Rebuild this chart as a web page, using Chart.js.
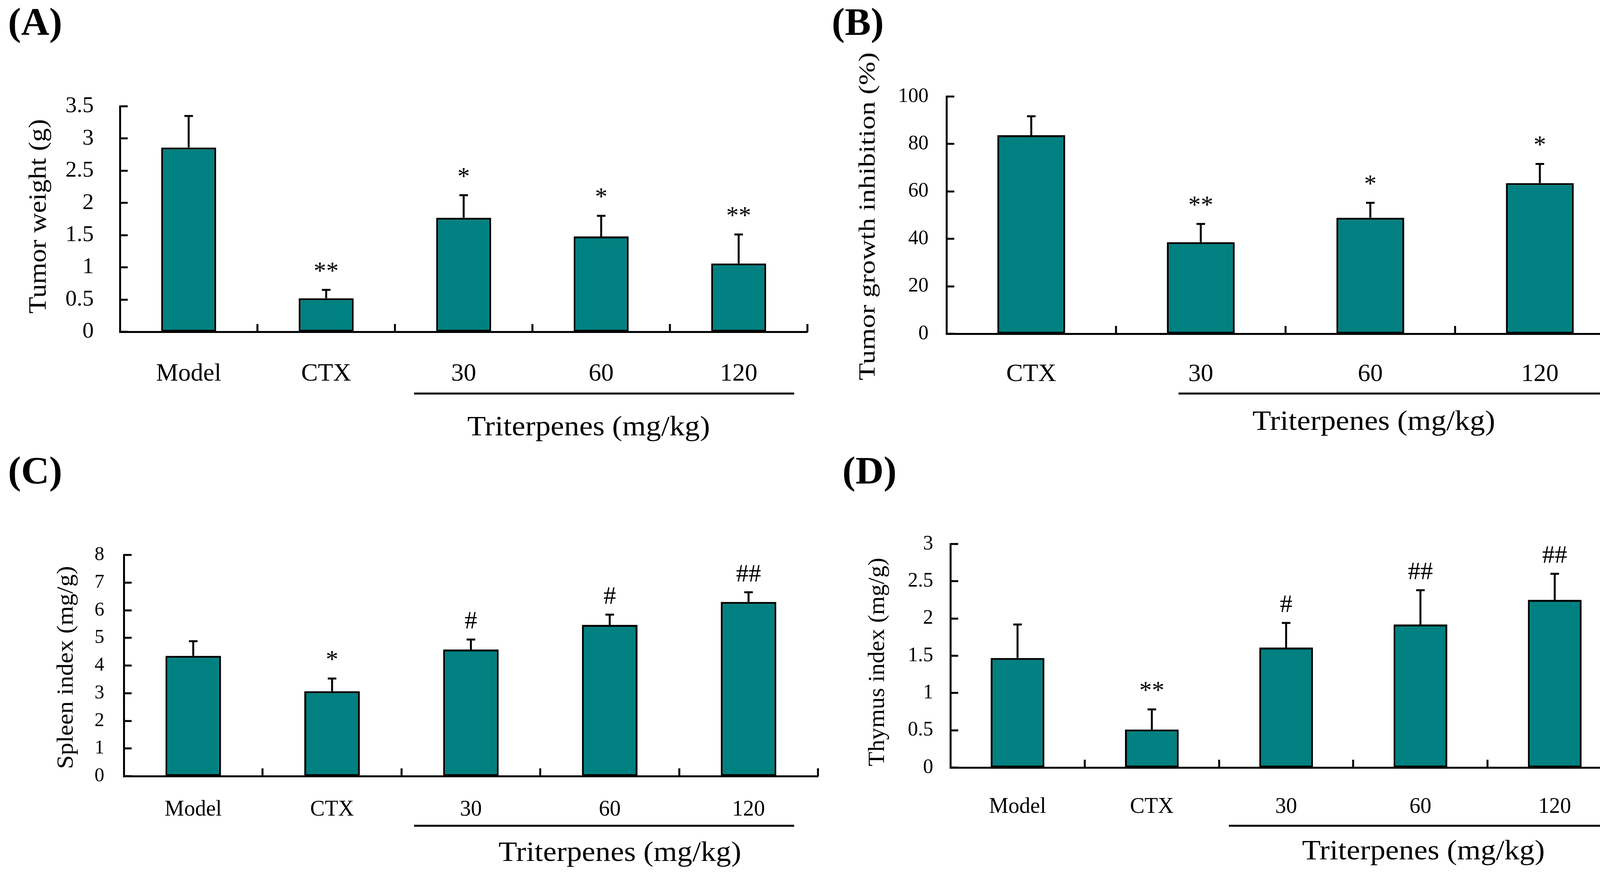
<!DOCTYPE html>
<html>
<head>
<meta charset="utf-8">
<script src="https://cdn.jsdelivr.net/npm/chart.js@4.4.1/dist/chart.umd.min.js"></script>
<style>
  html, body { margin: 0; padding: 0; background: #fff; }
  body { width: 4173px; height: 2239px; position: relative; overflow: hidden; }
  canvas { position: absolute; }
</style>
</head>
<body>
<canvas id="chartA" width="2100" height="1130" style="left:0px;top:0px;width:2100px;height:1130px"></canvas>
<canvas id="chartB" width="2073" height="1130" style="left:2100px;top:0px;width:2073px;height:1130px"></canvas>
<canvas id="chartC" width="2120" height="1119" style="left:0px;top:1120px;width:2120px;height:1119px"></canvas>
<canvas id="chartD" width="2053" height="1119" style="left:2120px;top:1120px;width:2053px;height:1119px"></canvas>
<script>
// (A) tumor weight
const weightGroups = ['Model', 'CTX', '30', '60', '120'];
const weightMean = [2.86, 0.52, 1.77, 1.48, 1.06];
const weightSD = [0.49, 0.13, 0.35, 0.32, 0.45];
const weightMarks = ['', '**', '*', '*', '**'];
const weightTicks = [0, 0.5, 1, 1.5, 2, 2.5, 3, 3.5];

// (B) tumor growth inhibition
const inhibitionGroups = ['CTX', '30', '60', '120'];
const inhibitionMean = [83.7, 38.6, 48.9, 63.5];
const inhibitionSD = [8.0, 7.7, 6.3, 8.1];
const inhibitionMarks = ['', '**', '*', '*'];
const inhibitionTicks = [0, 20, 40, 60, 80, 100];

// (C) spleen index
const spleenGroups = ['Model', 'CTX', '30', '60', '120'];
const spleenMean = [4.35, 3.07, 4.58, 5.47, 6.30];
const spleenSD = [0.53, 0.46, 0.36, 0.37, 0.35];
const spleenMarks = ['', '*', '#', '#', '##'];
const spleenTicks = [0, 1, 2, 3, 4, 5, 6, 7, 8];

// (D) thymus index
const thymusGroups = ['Model', 'CTX', '30', '60', '120'];
const thymusMean = [1.47, 0.51, 1.61, 1.92, 2.25];
const thymusSD = [0.45, 0.27, 0.33, 0.46, 0.35];
const thymusMarks = ['', '**', '#', '##', '##'];
const thymusTicks = [0, 0.5, 1, 1.5, 2, 2.5, 3];

const FONT = "'Liberation Serif', 'Times New Roman', serif";
const TEAL = '#008080';

// axis ticks, error bars, significance marks and panel texts
const panelDecor = {
  id: 'panelDecor',
  afterDatasetsDraw(chart, args, opts) {
    const ctx = chart.ctx;
    const xs = chart.scales.x;
    const ys = chart.scales.y;
    const area = chart.chartArea;
    const ds = chart.data.datasets[0];
    const meta = chart.getDatasetMeta(0);

    ctx.save();
    ctx.strokeStyle = '#000';
    ctx.fillStyle = '#000';
    ctx.lineWidth = 5;

    // y ticks point into the plot
    ys.ticks.forEach(t => {
      const py = Math.round(ys.getPixelForValue(t.value));
      ctx.beginPath();
      ctx.moveTo(area.left, py);
      ctx.lineTo(area.left + 20, py);
      ctx.stroke();
    });

    // x ticks between groups, pointing up
    for (let i = 0; i < xs.ticks.length; i++) {
      const px = Math.round(xs.getPixelForValue(i + 0.5));
      ctx.beginPath();
      ctx.moveTo(px, area.bottom);
      ctx.lineTo(px, area.bottom - 20);
      ctx.stroke();
    }

    // upper error bars
    ctx.font = '64px ' + FONT;
    ctx.textAlign = 'center';
    ctx.textBaseline = 'alphabetic';
    ds.errorBars.forEach((sd, i) => {
      const bar = meta.data[i];
      const top = ys.getPixelForValue(ds.data[i] + sd);
      ctx.beginPath();
      ctx.moveTo(bar.x, bar.y);
      ctx.lineTo(bar.x, top);
      ctx.moveTo(bar.x - 11, top);
      ctx.lineTo(bar.x + 11, top);
      ctx.stroke();
      if (ds.marks[i]) {
        ctx.fillText(ds.marks[i], bar.x, top - 28);
      }
    });

    // y axis title (the original text is a bit stretched along its length)
    ctx.save();
    ctx.translate(opts.titleX, (area.top + area.bottom) / 2 + opts.titleShift);
    ctx.rotate(-Math.PI / 2);
    ctx.scale(opts.titleStretch, 1);
    ctx.font = opts.titleSize + 'px ' + FONT;
    ctx.textBaseline = 'middle';
    ctx.fillText(opts.title, 0, 0);
    ctx.restore();

    // panel letter
    ctx.font = 'bold 100px ' + FONT;
    ctx.textBaseline = 'middle';
    ctx.fillText(opts.letter, opts.letterX, opts.letterY);

    // dose group line and label
    ctx.beginPath();
    ctx.moveTo(opts.lineFrom, opts.lineY);
    ctx.lineTo(opts.lineTo, opts.lineY);
    ctx.stroke();
    ctx.save();
    ctx.translate(opts.groupX, opts.groupY);
    ctx.scale(1.08, 1);
    ctx.font = '72px ' + FONT;
    ctx.fillText('Triterpenes (mg/kg)', 0, 0);
    ctx.restore();

    ctx.restore();
  }
};

function makePanel(id, p) {
  return new Chart(document.getElementById(id), {
    type: 'bar',
    data: {
      labels: p.groups,
      datasets: [{
        data: p.mean,
        errorBars: p.sd,
        marks: p.marks,
        backgroundColor: TEAL,
        borderColor: '#000',
        borderWidth: 5,
        borderSkipped: false,
        barPercentage: 0.4,
        categoryPercentage: 1
      }]
    },
    options: {
      responsive: false,
      animation: false,
      devicePixelRatio: 1,
      layout: { padding: { left: 0, top: p.padTop, right: p.padRight, bottom: p.padBottom } },
      plugins: {
        legend: { display: false },
        tooltip: { enabled: false },
        panelDecor: p.decor
      },
      scales: {
        x: {
          grid: { display: false, drawTicks: false },
          border: { display: true, color: '#000', width: 5 },
          ticks: {
            color: '#000',
            font: { family: FONT, size: p.catSize },
            padding: p.catPad,
            maxRotation: 0,
            autoSkip: false
          },
          afterFit: s => { s.height = 150; }
        },
        y: {
          min: 0,
          max: p.ticks[p.ticks.length - 1],
          grid: { display: false, drawTicks: false },
          border: { display: true, color: '#000', width: 5 },
          afterBuildTicks: s => { s.ticks = p.ticks.map(v => ({ value: v })); },
          ticks: {
            color: '#000',
            font: { family: FONT, size: p.tickSize },
            padding: p.tickPad,
            callback: v => String(v)
          },
          afterFit: s => { s.width = p.yWidth; }
        }
      }
    },
    plugins: [panelDecor]
  });
}

makePanel('chartA', {
  groups: weightGroups, mean: weightMean, sd: weightSD, marks: weightMarks, ticks: weightTicks,
  yWidth: 307, padTop: 272, padRight: 33, padBottom: 131,
  catSize: 64, catPad: 70, tickSize: 58, tickPad: 67,
  decor: {
    title: 'Tumor weight (g)', titleX: 100, titleSize: 64, titleStretch: 1.1, titleShift: -7,
    letter: '(A)', letterX: 90, letterY: 63,
    lineFrom: 1060, lineTo: 2033, lineY: 1007, groupX: 1507, groupY: 1095
  }
});

makePanel('chartB', {
  groups: inhibitionGroups, mean: inhibitionMean, sd: inhibitionSD, marks: inhibitionMarks, ticks: inhibitionTicks,
  yWidth: 323, padTop: 247, padRight: 14, padBottom: 126,
  catSize: 64, catPad: 66, tickSize: 52, tickPad: 46,
  decor: {
    title: 'Tumor growth inhibition (%)', titleX: 123, titleSize: 60, titleStretch: 1.2, titleShift: 3,
    letter: '(B)', letterX: 96, letterY: 63,
    lineFrom: 917, lineTo: 2030, lineY: 1007, groupX: 1417, groupY: 1081
  }
});

makePanel('chartC', {
  groups: spleenGroups, mean: spleenMean, sd: spleenSD, marks: spleenMarks, ticks: spleenTicks,
  yWidth: 317, padTop: 300, padRight: 26, padBottom: 103,
  catSize: 56, catPad: 53, tickSize: 50, tickPad: 50,
  decor: {
    title: 'Spleen index (mg/g)', titleX: 170, titleSize: 60, titleStretch: 1.06, titleShift: 5,
    letter: '(C)', letterX: 90, letterY: 91,
    lineFrom: 1060, lineTo: 2033, lineY: 993, groupX: 1587, groupY: 1064
  }
});

makePanel('chartD', {
  groups: thymusGroups, mean: thymusMean, sd: thymusSD, marks: thymusMarks, ticks: thymusTicks,
  yWidth: 313, padTop: 272, padRight: 21, padBottom: 125,
  catSize: 56, catPad: 68, tickSize: 52, tickPad: 44,
  decor: {
    title: 'Thymus index (mg/g)', titleX: 127, titleSize: 60, titleStretch: 1.02, titleShift: 16,
    letter: '(D)', letterX: 106, letterY: 91,
    lineFrom: 1026, lineTo: 2002, lineY: 993, groupX: 1524, groupY: 1060
  }
});
</script>
</body>
</html>
